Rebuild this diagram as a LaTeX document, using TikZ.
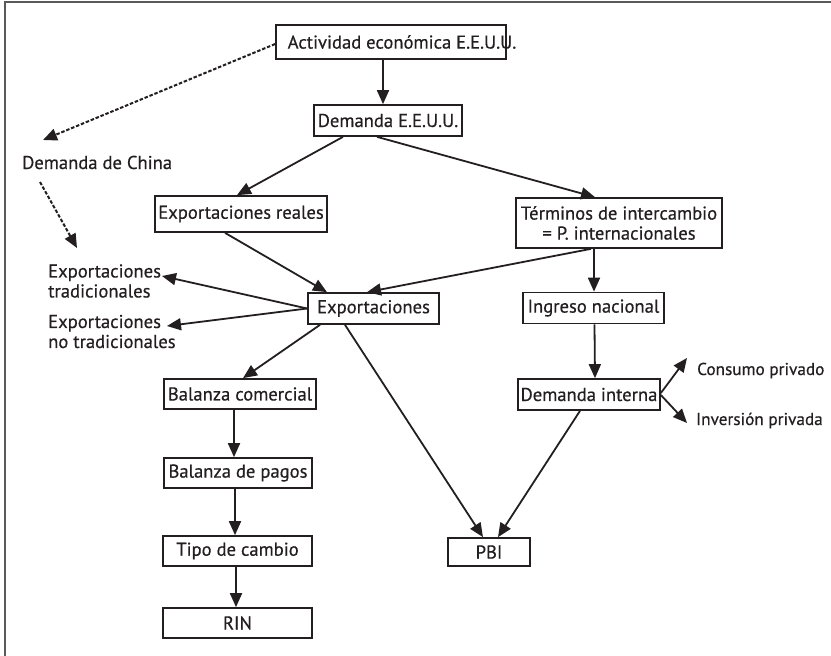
\documentclass[tikz,border=0pt]{standalone}
\usepackage{fontspec}
\setmainfont{PT Sans}[FakeBold=0.5]
\usetikzlibrary{arrows.meta}
\definecolor{ink}{HTML}{231F20}
\begin{document}
\begin{tikzpicture}[x=1pt,y=-1pt,
  every node/.style={font=\fontsize{18.6}{20}\selectfont, text=ink},
  box/.style={draw=ink, line width=1.7pt, inner sep=0pt, align=center},
  lbl/.style={inner sep=0pt, align=left},
  arr/.style={draw=ink, line width=1.8pt, -{Triangle[length=14pt,width=12pt]}},
  dsh/.style={draw=ink, line width=2pt, dash pattern=on 3.5pt off 1.8pt, -{Triangle[length=14pt,width=12pt]}},
  frame/.style={draw=black!65, line width=2.2pt}]
\useasboundingbox (0,0) rectangle (831,656);
\draw[frame] (5,656) -- (5,2) -- (831,2);

\node[box, minimum width=230pt, minimum height=34pt] (act) at (391,42) {\makebox[0pt]{\hspace{22pt}Actividad económica E.E.U.U.}};
\node[box, minimum width=148pt, minimum height=31pt] (dem) at (388,120.5) {Demanda E.E.U.U.};
\node[box, minimum width=172pt, minimum height=36pt] (expr) at (241,214) {Exportaciones reales};
\node[box, minimum width=206pt, minimum height=50pt] (term) at (619,223) {Términos de intercambio\\= P. internacionales};
\node[box, minimum width=131pt, minimum height=31pt] (exp) at (373.5,308.5) {Exportaciones};
\node[box, minimum width=141pt, minimum height=31pt] (ing) at (593.5,308) {Ingreso nacional};
\node[box, minimum width=152pt, minimum height=30pt] (balc) at (240,394) {Balanza comercial};
\node[box, minimum width=142pt, minimum height=31pt] (dint) at (589,394.5) {Demanda interna};
\node[box, minimum width=148pt, minimum height=30pt] (balp) at (238,473) {Balanza de pagos};
\node[box, minimum width=149pt, minimum height=30pt] (tipo) at (237.5,551) {Tipo de cambio};
\node[box, minimum width=82pt, minimum height=28pt] (pbi) at (489,552) {PBI};
\node[box, minimum width=149pt, minimum height=30pt] (rin) at (237.5,623) {RIN};

\node[lbl, anchor=base west] (china) at (22,169) {Demanda de China};
\node[lbl, anchor=west] (trad) at (48,281) {Exportaciones\\tradicionales};
\node[lbl, anchor=west] (notrad) at (48,331.5) {Exportaciones\\no tradicionales};
\node[lbl, anchor=base west, font=\fontsize{17.2}{20}\selectfont] (cons) at (697,375) {Consumo privado};
\node[lbl, anchor=base west, font=\fontsize{17.2}{20}\selectfont] (inv) at (696,425) {Inversión privada};

\draw[arr] ([xshift=-8pt]act.south) -- ([xshift=-5pt]dem.north);
\draw[arr] ([xshift=-45pt]dem.south) -- ([xshift=-4pt]expr.north);
\draw[arr] ([xshift=-11pt]dem.south) -- ([xshift=-24pt]term.north);
\draw[arr] ([xshift=-16pt]expr.south) -- ([xshift=-46.5pt]exp.north);
\draw[arr] ([xshift=-28pt]term.south) -- ([xshift=-6.5pt]exp.north);
\draw[arr] ([xshift=-25pt]term.south) -- ([xshift=0.5pt]ing.north);
\draw[arr] ([xshift=1pt]ing.south) -- ([xshift=6pt]dint.north);
\draw[arr] (exp.west) -- ([xshift=114pt,yshift=5pt]trad.west);
\draw[arr] (exp.west) -- ([xshift=119pt,yshift=5.5pt]notrad.west);
\draw[arr] ([xshift=-53.5pt]exp.south) -- ([xshift=3pt]balc.north);
\draw[arr] ([xshift=-28.5pt]exp.south) -- ([xshift=-6pt]pbi.north);
\draw[arr] ([xshift=-9pt]dint.south) -- ([xshift=9pt]pbi.north);
\draw[arr] ([yshift=1.5pt]dint.east) -- ([xshift=-10pt,yshift=17pt]cons.base west);
\draw[arr] ([yshift=-0.5pt]dint.east) -- ([xshift=-9pt,yshift=2pt]inv.base west);
\draw[arr] ([xshift=-6pt]balc.south) -- ([xshift=-4pt]balp.north);
\draw[arr] ([xshift=-3pt]balp.south) -- ([xshift=-2.5pt]tipo.north);
\draw[arr] ([xshift=-1.5pt]tipo.south) -- ([xshift=-1.5pt]rin.north);

\draw[dsh] ([yshift=-2pt]act.west) -- ([xshift=21pt,yshift=29pt]china.base west);
\draw[dsh] ([xshift=18pt,yshift=-13pt]china.base west) -- ([xshift=29pt,yshift=33pt]trad.west);
\end{tikzpicture}
\end{document}
